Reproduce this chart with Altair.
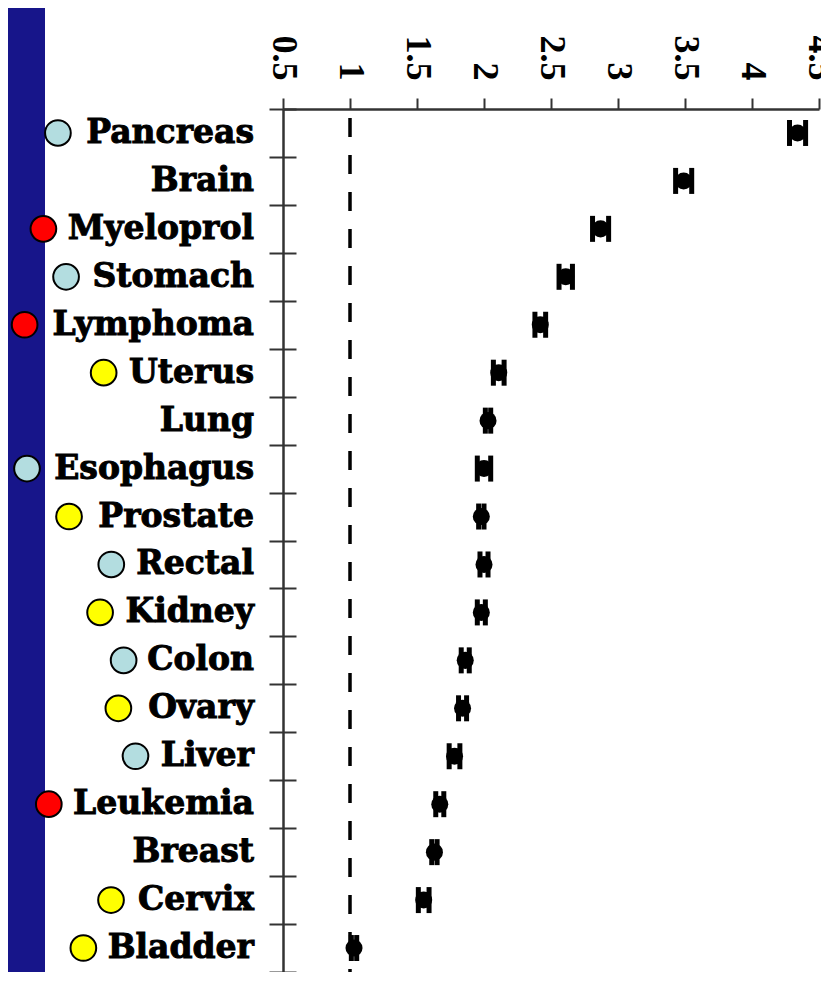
import altair as alt
import pandas as pd

CANCERS = ["Pancreas", "Brain", "Myeloprol", "Stomach", "Lymphoma", "Uterus",
           "Lung", "Esophagus", "Prostate", "Rectal", "Kidney", "Colon",
           "Ovary", "Liver", "Leukemia", "Breast", "Cervix", "Bladder"]
ESTIMATE = [4.34, 3.49, 2.87, 2.61, 2.42, 2.11, 2.03, 2.00, 1.98, 2.00, 1.98,
            1.86, 1.84, 1.78, 1.67, 1.63, 1.55, 1.03]
LOWER = [4.28, 3.43, 2.81, 2.56, 2.38, 2.07, 2.01, 1.95, 1.96, 1.97, 1.95,
         1.83, 1.81, 1.74, 1.64, 1.61, 1.51, 1.01]
UPPER = [4.40, 3.55, 2.93, 2.66, 2.46, 2.15, 2.05, 2.05, 2.00, 2.03, 2.01,
         1.89, 1.87, 1.82, 1.70, 1.65, 1.59, 1.05]
GROUP = ["blue", "none", "red", "blue", "red", "yellow", "none", "blue",
         "yellow", "blue", "yellow", "blue", "yellow", "blue", "red", "none",
         "yellow", "yellow"]
X_TICKS = [0.5, 1, 1.5, 2, 2.5, 3, 3.5, 4, 4.5]
REFERENCE = [1]

GROUP_DOMAIN = ["blue", "red", "yellow"]
GROUP_COLORS = ["#b3dde0", "#ff0000", "#ffff00"]
NAVY = "#17158a"

# layout (pixels)
W, H = 536, 863
PAD_L, PAD_T = 275, 101
TICK, LABEL_PAD = 14, 15
LABEL_SIZE = 33
MARK_R, MARK_GAP = 14, 12

# approximate advance widths (em) of the bold serif label font, used to place
# the group markers just left of each label
CHAR_EM = {
    "a": .675, "b": .716, "c": .593, "d": .716, "e": .678, "g": .716,
    "h": .712, "i": .343, "k": .665, "l": .343, "m": 1.042, "n": .712,
    "o": .687, "p": .716, "r": .493, "s": .595, "t": .478, "u": .712,
    "v": .652, "x": .645, "y": .652, "B": .762, "C": .734, "E": .683,
    "K": .775, "L": .637, "M": .995, "O": .850, "P": .733, "R": .770,
    "S": .720, "U": .812,
}


def text_width(s, size):
    return sum(CHAR_EM.get(ch, 0.65) for ch in s) * size


df = pd.DataFrame({"cancer": CANCERS, "estimate": ESTIMATE, "lower": LOWER,
                   "upper": UPPER, "group": GROUP})
df["cx"] = [-(TICK + LABEL_PAD) - text_width(c, LABEL_SIZE) - MARK_GAP - MARK_R
            for c in CANCERS]

yscale = alt.Scale(type="band", paddingInner=0, paddingOuter=0)
xscale = alt.Scale(domain=[0.5, 4.5], nice=False, zero=False)

x_axis = alt.Axis(orient="top", values=X_TICKS, format="~g", labelAngle=90,
                  labelAlign="right", labelBaseline="middle", labelPadding=18,
                  labelFont="Liberation Serif", labelFontWeight="bold",
                  labelFontSize=36, labelColor="black", tickSize=11,
                  tickWidth=2, tickColor="#333333", domainColor="#333333",
                  domainWidth=2.5, grid=False, labelOverlap=False,
                  labelLimit=0, labelFlush=False)

left_axis = alt.Axis(orient="left", labels=False, tickSize=TICK, tickWidth=2,
                     tickColor="#333333", domainColor="#333333",
                     domainWidth=2.5, tickBand="extent", grid=False)
right_ticks_axis = alt.Axis(orient="right", offset=-W, labels=False,
                            domain=False, tickSize=13, tickWidth=2,
                            tickColor="#333333", tickBand="extent", grid=False)


def Y(axis=None):
    return alt.Y("cancer:N", sort=CANCERS, scale=yscale, axis=axis, title=None)


def X(field):
    return alt.X(field, type="quantitative", scale=xscale, axis=x_axis, title=None)


strip = alt.Chart(pd.DataFrame({"k": [0]})).mark_rect(color=NAVY).encode(
    x=alt.value(-PAD_L), x2=alt.value(-238), y=alt.value(-PAD_T), y2=alt.value(H + 20)
)

ref = alt.Chart(pd.DataFrame({"ref": REFERENCE})).mark_rule(
    color="black", strokeWidth=3.5, strokeDash=[19, 18], strokeDashOffset=28
).encode(x=X("ref:Q"))

base = alt.Chart(df)

bar = base.mark_rule(color="black", strokeWidth=5).encode(
    x=X("lower"), x2="upper", y=Y(left_axis)
)
cap_lo = base.mark_tick(color="black", size=26, thickness=5, opacity=1).encode(
    x=X("lower"), y=Y(right_ticks_axis)
)
cap_hi = base.mark_tick(color="black", size=26, thickness=5, opacity=1).encode(
    x=X("upper"), y=Y()
)
dot = base.mark_circle(color="black", size=290, opacity=1).encode(
    x=X("estimate"), y=Y()
)

data_layers = alt.layer(ref, bar, cap_lo, cap_hi, dot).resolve_axis(y="independent")

labels = base.mark_text(
    align="right", baseline="middle", font="DejaVu Serif", fontWeight="bold",
    fontSize=LABEL_SIZE, color="black", stroke="black", strokeWidth=1
).encode(x=alt.value(-(TICK + LABEL_PAD)), y=Y(), text="cancer:N")

markers = base.transform_filter("datum.group != 'none'").mark_circle(
    size=660, opacity=1, stroke="black", strokeWidth=2
).encode(
    x=alt.X("cx:Q", scale=None, axis=None),
    y=Y(),
    fill=alt.Fill("group:N", scale=alt.Scale(domain=GROUP_DOMAIN, range=GROUP_COLORS),
                  legend=None),
)

chart = alt.layer(strip, data_layers, labels, markers).resolve_scale(
    x="independent"
).properties(
    width=W, height=H,
    padding={"left": PAD_L, "top": PAD_T, "right": 2, "bottom": 0},
    autosize=alt.AutoSizeParams(type="none"),
    background="white",
).configure_view(strokeWidth=0)

chart.save("out.html", embed_options={"renderer": "svg", "actions": False})
